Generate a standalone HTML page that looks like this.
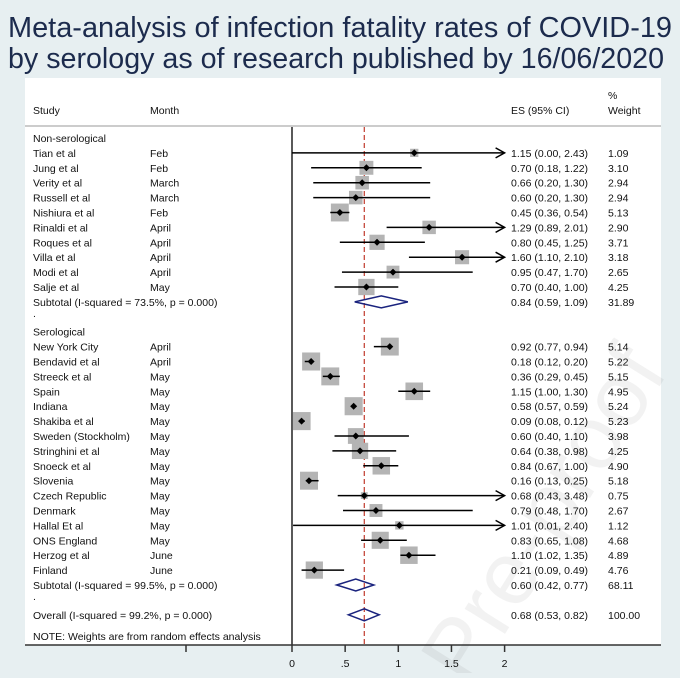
<!DOCTYPE html>
<html><head><meta charset="utf-8"><style>
body{margin:0;width:680px;height:673px;background:#e7eff1;overflow:hidden;font-family:"Liberation Sans",sans-serif}
</style></head><body>
<svg id="c" width="680" height="673" xmlns="http://www.w3.org/2000/svg" style="font-family:'Liberation Sans',sans-serif">
<text x="8" y="37" font-size="29" fill="#1c2b4d" textLength="664" lengthAdjust="spacingAndGlyphs">Meta-analysis of infection fatality rates of COVID-19</text>
<text x="8" y="68" font-size="29" fill="#1c2b4d" textLength="656" lengthAdjust="spacingAndGlyphs">by serology as of research published by 16/06/2020</text>
<rect x="25" y="78" width="636" height="567" fill="#fff"/>
<g id="g"></g>
</svg>
<script>
const studies=["Tian et al","Jung et al","Verity et al","Russell et al","Nishiura et al","Rinaldi et al","Roques et al","Villa et al","Modi et al","Salje et al",
"New York City","Bendavid et al","Streeck et al","Spain","Indiana","Shakiba et al","Sweden (Stockholm)","Stringhini et al","Snoeck et al","Slovenia","Czech Republic","Denmark","Hallal Et al","ONS England","Herzog et al","Finland"];
const months=["Feb","Feb","March","March","Feb","April","April","April","April","May","April","April","May","May","May","May","May","May","May","May","May","May","May","May","June","June"];
const es=[1.15,0.70,0.66,0.60,0.45,1.29,0.80,1.60,0.95,0.70,0.92,0.18,0.36,1.15,0.58,0.09,0.60,0.64,0.84,0.16,0.68,0.79,1.01,0.83,1.10,0.21];
const lo=[0.00,0.18,0.20,0.20,0.36,0.89,0.45,1.10,0.47,0.40,0.77,0.12,0.29,1.00,0.57,0.08,0.40,0.38,0.67,0.13,0.43,0.48,0.01,0.65,1.02,0.09];
const hi=[2.43,1.22,1.30,1.30,0.54,2.01,1.25,2.10,1.70,1.00,0.94,0.20,0.45,1.30,0.59,0.12,1.10,0.98,1.00,0.25,3.48,1.70,2.40,1.08,1.35,0.49];
const weights=[1.09,3.10,2.94,2.94,5.13,2.90,3.71,3.18,2.65,4.25,5.14,5.22,5.15,4.95,5.24,5.23,3.98,4.25,4.90,5.18,0.75,2.67,1.12,4.68,4.89,4.76];
const rowIdx=[1,2,3,4,5,6,7,8,9,10,14,15,16,17,18,19,20,21,22,23,24,25,26,27,28,29];
const pooledLabels=["Subtotal  (I-squared = 73.5%, p = 0.000)","Subtotal  (I-squared = 99.5%, p = 0.000)","Overall  (I-squared = 99.2%, p = 0.000)"];
const pooledEs=[0.84,0.60,0.68];const pooledLo=[0.59,0.42,0.53];const pooledHi=[1.09,0.77,0.82];
const pooledW=["31.89","68.11","100.00"];const pooledRow=[11,30,32];
const ticks=[0,0.5,1,1.5,2];const tickLabels=["0",".5","1","1.5","2"];
const overall=0.68;
const X=v=>292+v*106.3, Y=r=>138+r*14.9;
const g=document.getElementById('g');const NS="http://www.w3.org/2000/svg";
function mk(t,a,txt){const e=document.createElementNS(NS,t);for(const k in a)e.setAttribute(k,a[k]);if(txt!=null)e.textContent=txt;g.appendChild(e);return e;}
function tx(x,y,s,anchor){return mk('text',{x:x,y:y+4,'font-size':10.5,fill:'#111','text-anchor':anchor||'start'},s);}
let e;
e=mk('text',{x:0,y:0,'font-size':90,fill:'#000','fill-opacity':0.05,transform:'translate(470,690) rotate(-58)'},"Pre-proof");
e=tx(33,110,"Study");
e=tx(150,110,"Month");
e=tx(511,110,"ES (95% CI)");
e=tx(608,95,"%");
e=tx(608,110,"Weight");
e=mk('line',{x1:25,x2:661,y1:126,y2:126,stroke:'#ccc','stroke-width':2});
e=tx(33,Y(0),"Non-serological");
e=tx(33,Y(13),"Serological");
e=tx(33,Y(12)-4,".");
e=tx(33,Y(31)-4,".");
e=tx(33,636,"NOTE: Weights are from random effects analysis");
e=mk('line',{x1:X(0),x2:X(0),y1:127,y2:645,stroke:'#000','stroke-width':1.3});
e=mk('line',{x1:X(overall),x2:X(overall),y1:127,y2:645,stroke:'#c0392b','stroke-width':1.2,'stroke-dasharray':'5,3'});
for(let i=0;i<studies.length;i++){
 const y=Y(rowIdx[i]);
 e=tx(33,y,studies[i]);
 e=tx(150,y,months[i]);
 e=tx(511,y,es[i].toFixed(2)+" ("+lo[i].toFixed(2)+", "+hi[i].toFixed(2)+")");
 e=tx(608,y,weights[i].toFixed(2));
 const s=7.9*Math.sqrt(weights[i]);
 e=mk('rect',{x:X(es[i])-s/2,y:y-s/2,width:s,height:s,fill:'#b4b4b4'});
 const l=Math.max(lo[i],0),h=Math.min(hi[i],2);
 e=mk('line',{x1:X(l),x2:X(h),y1:y,y2:y,stroke:'#000','stroke-width':1.5});
 if(hi[i]>2){e=mk('path',{d:`M${X(2)-9},${y-5}L${X(2)},${y}L${X(2)-9},${y+5}`,fill:'none',stroke:'#000','stroke-width':1.5});}
 e=mk('path',{d:`M${X(es[i])-3.5},${y}L${X(es[i])},${y-3.5}L${X(es[i])+3.5},${y}L${X(es[i])},${y+3.5}Z`,fill:'#000'});
}
for(let i=0;i<3;i++){
 const y=Y(pooledRow[i]);
 e=tx(33,y,pooledLabels[i]);
 e=tx(511,y,pooledEs[i].toFixed(2)+" ("+pooledLo[i].toFixed(2)+", "+pooledHi[i].toFixed(2)+")");
 e=tx(608,y,pooledW[i]);
 e=mk('path',{d:`M${X(pooledLo[i])},${y}L${X(pooledEs[i])},${y-6}L${X(pooledHi[i])},${y}L${X(pooledEs[i])},${y+6}Z`,fill:'none',stroke:'#1a237e','stroke-width':1.5});
}
e=mk('line',{x1:25,x2:661,y1:645,y2:645,stroke:'#333','stroke-width':1.5});
e=mk('line',{x1:186,x2:186,y1:645,y2:652,stroke:'#333','stroke-width':1.5});
for(let i=0;i<ticks.length;i++){
 e=mk('line',{x1:X(ticks[i]),x2:X(ticks[i]),y1:645,y2:652,stroke:'#333','stroke-width':1.5});
 e=mk('text',{x:X(ticks[i]),y:667,'font-size':10.5,fill:'#111','text-anchor':'middle'},tickLabels[i]);
}
</script>
</body></html>
